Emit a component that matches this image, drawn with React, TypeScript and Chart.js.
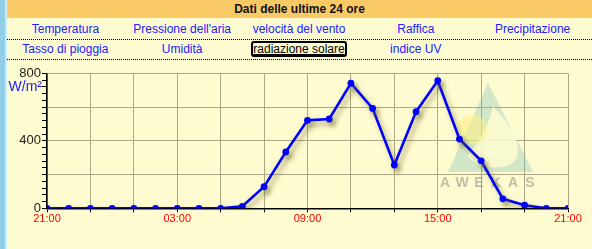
import React, { useEffect, useRef } from "react";
import { Chart, registerables } from "chart.js";
Chart.register(...registerables);

const FONT = "'Liberation Sans', Arial, Helvetica, sans-serif";

const title = "Dati delle ultime 24 ore";
const tabsRow1 = ["Temperatura", "Pressione dell'aria", "velocità del vento", "Raffica", "Precipitazione"];
const tabsRow2 = ["Tasso di pioggia", "Umidità", "radiazione solare", "indice UV"];
const activeTab = "radiazione solare";
const unitLabel = "W/m²";

// hourly readings from 21:00 to 21:00 next day (25 points)
const hourIndex = [0, 1, 2, 3, 4, 5, 6, 7, 8, 9, 10, 11, 12, 13, 14, 15, 16, 17, 18, 19, 20, 21, 22, 23, 24];
const radiation = [0, 0, 0, 0, 0, 0, 0, 0, 0, 12, 128, 334, 522, 530, 742, 593, 257, 573, 757, 411, 282, 56, 18, 0, 0];
const xTickLabels = ["21:00", "03:00", "09:00", "15:00", "21:00"];
const yTickLabels = [0, 400, 800];
const watermarkLetters = ["A", "W", "E", "K", "A", "S"];

const OLIVE = "#aca886";
const BG = "#FEFBD0";

const shadowPlugin = {
  id: "lineShadow",
  beforeDatasetDraw(chart: any) {
    const c = chart.ctx;
    c.save();
    c.shadowColor = "rgba(110,100,40,0.55)";
    c.shadowOffsetX = 3;
    c.shadowOffsetY = 4;
    c.shadowBlur = 5;
  },
  afterDatasetDraw(chart: any) {
    chart.ctx.restore();
  },
};

const watermarkPlugin = {
  id: "watermark",
  beforeDatasetsDraw(chart: any) {
    const c = chart.ctx;
    const a = chart.chartArea;
    const ox = a.left;
    const oy = a.top;
    c.save();
    // triangle
    c.beginPath();
    c.moveTo(ox + 441, oy + 9.5);
    c.lineTo(ox + 401, oy + 98.5);
    c.lineTo(ox + 486, oy + 98.5);
    c.closePath();
    c.fillStyle = "rgba(120,190,185,0.33)";
    c.fill();
    // inner teardrop
    c.beginPath();
    c.moveTo(ox + 446, oy + 33);
    c.bezierCurveTo(ox + 462, oy + 50, ox + 478, oy + 70, ox + 468, oy + 87);
    c.bezierCurveTo(ox + 460, oy + 97, ox + 432, oy + 97, ox + 420, oy + 82);
    c.bezierCurveTo(ox + 432, oy + 70, ox + 440, oy + 55, ox + 446, oy + 33);
    c.closePath();
    c.fillStyle = "rgba(254,251,208,0.85)";
    c.fill();
    // sun
    c.beginPath();
    c.arc(ox + 425, oy + 56, 15, 0, Math.PI * 2);
    c.fillStyle = "rgba(255,240,130,0.55)";
    c.fill();
    // text
    c.fillStyle = "rgba(140,140,125,0.55)";
    c.font = "bold 14px " + FONT;
    c.textAlign = "center";
    c.textBaseline = "middle";
    watermarkLetters.forEach((ch, i) => {
      c.fillText(ch, ox + 398 + i * 17, oy + 110);
    });
    c.restore();
  },
};

const unitPlugin = {
  id: "unitLabel",
  afterDraw(chart: any) {
    const c = chart.ctx;
    const a = chart.chartArea;
    c.save();
    c.fillStyle = "#2020ff";
    c.font = "14px " + FONT;
    c.textAlign = "right";
    c.textBaseline = "middle";
    c.fillText(unitLabel, a.left - 5, a.top + 14);
    c.restore();
  },
};

function RadiationChart() {
  const ref = useRef<HTMLCanvasElement | null>(null);
  useEffect(() => {
    if (!ref.current) return;
    Chart.defaults.font.family = FONT;
    const chart = new Chart(ref.current, {
      type: "line",
      data: {
        datasets: [
          {
            data: hourIndex.map((h, i) => ({ x: h, y: radiation[i] })),
            borderColor: "#0000ff",
            backgroundColor: "#0000ff",
            borderWidth: 2.6,
            pointRadius: 3.4,
            pointBorderWidth: 0,
            pointBackgroundColor: "#0000ff",
            tension: 0,
            fill: false,
          },
        ],
      },
      options: {
        animation: false,
        responsive: false,
        devicePixelRatio: 1,
        layout: { padding: { top: 13.5, right: 24, left: 0, bottom: 0 } },
        plugins: { legend: { display: false }, tooltip: { enabled: false } },
        scales: {
          x: {
            type: "linear",
            min: 0,
            max: 24,
            afterFit: (s: any) => {
              s.height = 40.7;
            },
            ticks: {
              stepSize: 2,
              autoSkip: false,
              maxRotation: 0,
              color: "#ff0000",
              padding: 0,
              font: { size: 11, family: FONT },
              callback: (v: any) => (v % 6 === 0 ? xTickLabels[v / 6] : ""),
            },
            grid: { color: OLIVE, tickColor: "#000", tickLength: 4, lineWidth: 1 },
            border: { color: "#000", width: 1.5 },
          },
          y: {
            min: 0,
            max: 800,
            afterFit: (s: any) => {
              s.width = 40;
            },
            ticks: {
              stepSize: 40,
              autoSkip: false,
              color: "#222",
              padding: 1,
              font: { size: 13, family: FONT },
              callback: (v: any) => (yTickLabels.includes(v) ? String(v) : ""),
            },
            grid: {
              color: (ctx: any) => (ctx.tick && ctx.tick.value % 200 === 0 ? OLIVE : "rgba(0,0,0,0)"),
              tickColor: "#000",
              tickLength: 5,
              lineWidth: 1,
            },
            border: { color: "#000", width: 1.5 },
          },
        },
      },
      plugins: [watermarkPlugin, shadowPlugin, unitPlugin],
    } as any);
    return () => chart.destroy();
  }, []);
  return (
    <canvas
      ref={ref}
      width={585}
      height={189}
      style={{ position: "absolute", left: 7, top: 60, width: 585, height: 189 }}
    />
  );
}

export default function App() {
  const colW = 116.8;
  const cell = (text: string, i: number, top: number) => {
    const active = text === activeTab;
    return (
      <div
        key={text}
        style={{
          position: "absolute",
          left: 7 + i * colW,
          top,
          width: colW,
          height: 20,
          lineHeight: "20px",
          textAlign: "center",
          fontSize: 12,
          color: active ? "#000" : "#2020ff",
          textDecoration: active ? "underline" : "none",
          whiteSpace: "nowrap",
        }}
      >
        {text}
      </div>
    );
  };
  return (
    <div
      style={{
        position: "fixed",
        left: 0,
        top: 0,
        width: 592,
        height: 249,
        background: BG,
        overflow: "hidden",
        fontFamily: FONT,
      }}
    >
      <div style={{ position: "absolute", left: 0, top: 0, width: 5, height: 249, background: "#92cde8" }} />
      <div style={{ position: "absolute", left: 5, top: 0, width: 2, height: 249, background: "#c9e9f3" }} />
      <div
        style={{
          position: "absolute",
          left: 7,
          top: 0,
          width: 585,
          height: 18,
          background: "#F9C966",
          textAlign: "center",
          fontWeight: "bold",
          fontSize: 12,
          lineHeight: "18px",
          color: "#111",
        }}
      >
        {title}
      </div>
      {tabsRow1.map((t, i) => cell(t, i, 19))}
      <div style={{ position: "absolute", left: 7, top: 39, width: 585, height: 0, borderTop: "1px dotted #000" }} />
      <div
        style={{
          position: "absolute",
          left: 251,
          top: 41,
          width: 96,
          height: 16,
          boxSizing: "border-box",
          border: "2px solid #000",
          borderRadius: 3,
        }}
      />
      {tabsRow2.map((t, i) => cell(t, i, 39))}
      <div style={{ position: "absolute", left: 7, top: 59, width: 585, height: 0, borderTop: "1px dotted #000" }} />
      <RadiationChart />
    </div>
  );
}
